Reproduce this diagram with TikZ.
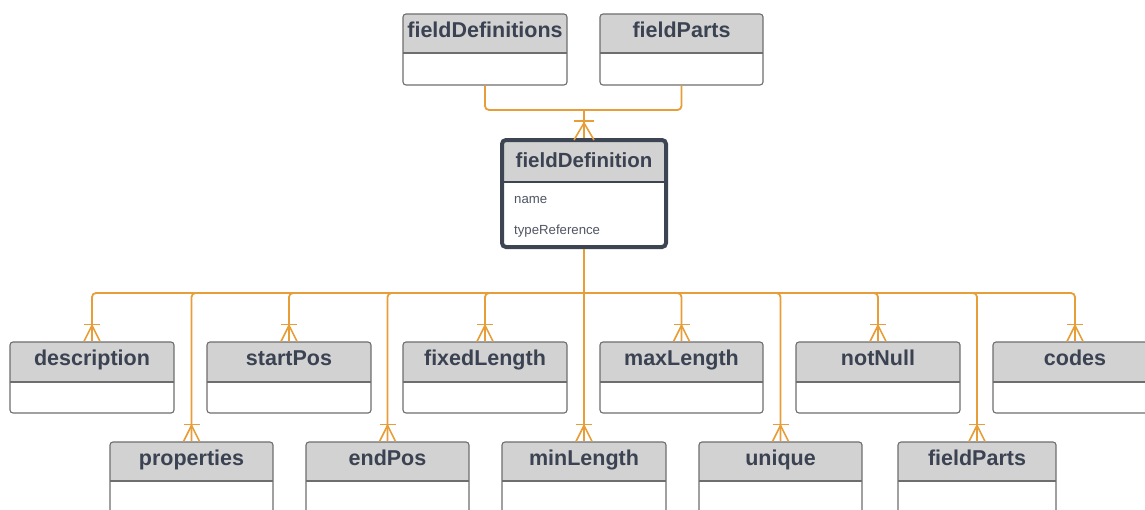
\documentclass[tikz,border=0pt]{standalone}
\usepackage{fontspec}
\setmainfont{Liberation Sans}
\usetikzlibrary{fit}
\definecolor{orng}{HTML}{E89E38}
\definecolor{hdrgray}{HTML}{D2D2D2}
\definecolor{txt}{HTML}{3B4252}
\definecolor{bord}{HTML}{6E6E6E}
\definecolor{dark}{HTML}{3D4452}
\tikzset{
  ebox/.style={draw=bord, line width=1.1pt, rounded corners=3pt, inner sep=0pt, fit={#1}},
  mainbox/.style={draw=dark, line width=4pt, rounded corners=4pt, inner sep=0pt, fit={#1}},
  sep/.style={draw=bord, line width=1.1pt},
  title/.style={font=\bfseries\fontsize{21.5}{24}\selectfont, text=txt, anchor=base, inner sep=0pt},
  attr/.style={font=\fontsize{13.2}{15}\selectfont, text=txt!90, anchor=base west, inner sep=0pt},
  conn/.style={draw=orng, line width=1.8pt, rounded corners=4pt},
  foot/.style={draw=orng, line width=1.6pt},
}
% #1 name, #2 x1, #3 y1, #4 x2, #5 y2, #6 header bottom, #7 label
\newcommand\ent[7]{%
  \begin{scope}
    \clip[rounded corners=3pt] (#2,#3) rectangle (#4,#5);
    \fill[hdrgray] (#2,#3) rectangle (#4,#6);
    \fill[white] (#2,#6) rectangle (#4,#5);
  \end{scope}
  \draw[sep] (#2,#6) -- (#4,#6);
  \node[ebox={(#2,#3) (#4,#5)}] (#1) {};
  \node[title] at ({(#2+#4)/2},{#3+23}) {#7};
}
% crow's foot at north of node #1
\newcommand\crow[1]{%
  \draw[foot] ([xshift=-8pt]#1.north) -- ([yshift=16pt]#1.north) -- ([xshift=8pt]#1.north);
  \draw[foot] ([xshift=-8pt,yshift=17pt]#1.north) -- ([xshift=8pt,yshift=17pt]#1.north);
}
\begin{document}
\begin{tikzpicture}[x=1pt,y=-1pt]
\clip (0,0) rectangle (1145,509);
\fill[white] (0,0) rectangle (1145,509);

% top entities
\ent{fdefs}{403}{14}{567}{85}{53}{fieldDefinitions}
\ent{fparts}{600}{14}{763}{85}{53}{fieldParts}

% main entity
\fill[hdrgray] (502,140) rectangle (666,182);
\fill[white] (502,182) rectangle (666,247);
\draw[draw=dark, line width=2pt] (502,182) -- (666,182);
\node[mainbox={(502,140) (666,247)}] (fd) {};
\node[title, font=\bfseries\fontsize{20.5}{24}\selectfont] at (584,167) {fieldDefinition};
\node[attr] (nm) at (514,203) {name};
\node[attr] (tr) at (514,234) {typeReference};

% row 1
\ent{desc}{10}{342}{174}{413}{382}{description}
\ent{spos}{207}{342}{371}{413}{382}{startPos}
\ent{flen}{403}{342}{567}{413}{382}{fixedLength}
\ent{maxl}{600}{342}{763}{413}{382}{maxLength}
\ent{nnul}{796}{342}{960}{413}{382}{notNull}
\ent{codes}{993}{342}{1157}{413}{382}{codes}

% row 2
\ent{props}{110}{442}{273}{514}{481}{properties}
\ent{epos}{306}{442}{469}{514}{481}{endPos}
\ent{minl}{502}{442}{666}{514}{481}{minLength}
\ent{uniq}{699}{442}{862}{514}{481}{unique}
\ent{fpart}{898}{442}{1056}{514}{481}{fieldParts}

% top connectors
\coordinate (jt) at (584,110);
\draw[conn] (fdefs.south) |- (jt);
\draw[conn] (fparts.south) |- (jt);
\draw[conn] (jt) -- (fd.north);
\draw[foot] (574,140) -- (584,123) -- (594,140);
\draw[foot] (574,121) -- (594,121);

% bottom connectors
\coordinate (bus) at (584,293);
\draw[conn] (fd.south) -- (bus);
\foreach \n in {desc,spos,flen,maxl,nnul,codes,props,epos,uniq,fpart}{
  \draw[conn] (bus) -| (\n.north);
  \crow{\n}
}
\draw[conn] (bus) -- (minl.north);
\crow{minl}
\end{tikzpicture}
\end{document}
